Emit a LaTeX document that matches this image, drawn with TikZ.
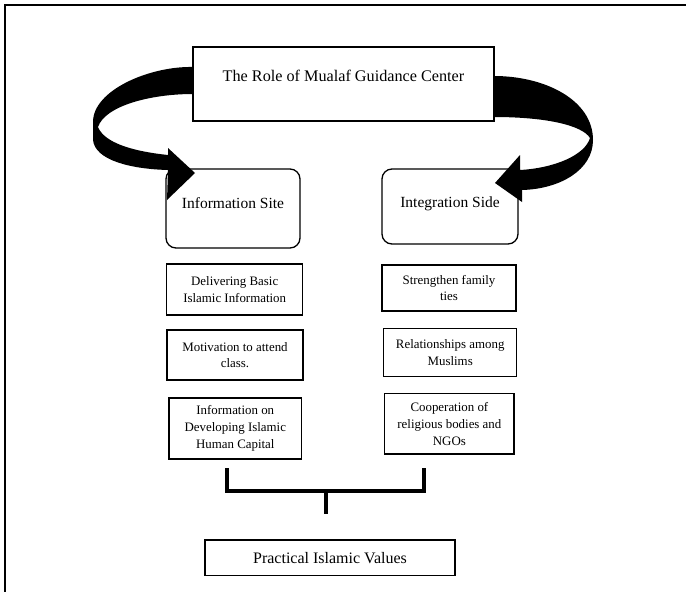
\documentclass[tikz,border=0pt]{standalone}
\usepackage{fontspec}
\setmainfont{Liberation Serif}
\begin{document}
\begin{tikzpicture}[x=1pt,y=-1pt,
  bigtext/.style={font=\fontsize{15.5}{18}\selectfont},
  titletext/.style={font=\fontsize{16.2}{19}\selectfont},
  smalltext/.style={font=\fontsize{12.9}{16.7}\selectfont},
  plainbox/.style={draw, line width=1.3pt, inner sep=0pt, align=center},
  sidebox/.style={plainbox, rounded corners=10pt, anchor=base, bigtext},
  itembox/.style={plainbox, smalltext},
  bracketline/.style={line width=4pt, line join=miter},
  ribbon/.style={fill=black}]
\useasboundingbox (0,0) rectangle (686,592);
% outer frame (only left and top edges are visible)
\draw[line width=2pt] (4.5,592) -- (4.5,5) -- (686,5);

% top box
\node[plainbox, titletext, anchor=base, minimum width=301pt, text height=34pt, text depth=40pt]
  (role) at (343.5,81) {The Role of Mualaf Guidance Center};

% side boxes
\node[sidebox, minimum width=134pt, text height=39pt, text depth=40pt]
  (info) at (233,208) {Information Site};
\node[sidebox, minimum width=136pt, text height=38pt, text depth=37pt]
  (integ) at (450,207) {Integration Side};

% curved arrows
\fill[ribbon] (193,67) .. controls (150,66) and (93,90) .. (93,122)
  -- (93,140) .. controls (95,160) and (130,169) .. (168,170)
  -- (167,200) -- (195,173) -- (168,148) -- (168,155)
  .. controls (130,151) and (104,142) .. (98,127)
  .. controls (105,106) and (150,94) .. (193,94) -- cycle;
\fill[ribbon] (494,76) .. controls (545,76) and (593,100) .. (593,140)
  .. controls (593,170) and (560,189) .. (522,190)
  -- (522,202) -- (495,183) -- (520,155) -- (520,170)
  .. controls (555,168) and (585,155) .. (590,138)
  .. controls (582,125) and (545,117) .. (494,117) -- cycle;

% item boxes
\node[itembox, minimum width=136pt, minimum height=51pt] (deliver) at (234.7,289.5)
  {Delivering Basic\\Islamic Information};
\node[itembox, minimum width=136pt, minimum height=50pt] (motiv) at (235,355)
  {Motivation to attend\\class.};
\node[itembox, minimum width=132.7pt, minimum height=61pt] (human) at (235.3,428.5)
  {Information on\\Developing Islamic\\Human Capital};
\node[itembox, minimum width=134pt, minimum height=46pt] (family) at (449,288)
  {Strengthen family\\ties};
\node[itembox, minimum width=133pt, minimum height=48pt] (muslims) at (450.2,352.7)
  {Relationships among\\Muslims};
\node[itembox, minimum width=129.3pt, minimum height=60.3pt] (coop) at (449.4,423.9)
  {Cooperation of\\religious bodies and\\NGOs};

% bottom box
\node[plainbox, font=\fontsize{16}{19}\selectfont, minimum width=250pt, minimum height=35.7pt] (values) at (330,557.9)
  {Practical Islamic Values};

% bracket
\coordinate (bl) at (227,468);
\coordinate (br) at (424,468);
\coordinate (bm) at (325.7,491);
\coordinate (stem) at (325.7,514);
\draw[bracketline] (bl) -- (bl |- bm) -- (br |- bm) -- (br);
\draw[bracketline] (bm) -- (stem);
\end{tikzpicture}
\end{document}
